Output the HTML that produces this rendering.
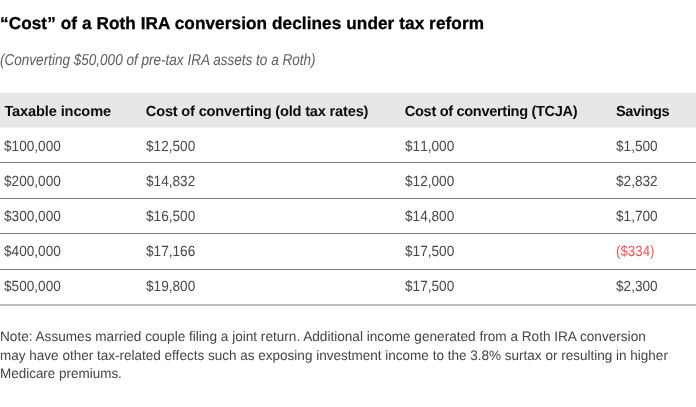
<!DOCTYPE html>
<html lang="en">
<head>
<meta charset="utf-8">
<title>“Cost” of a Roth IRA conversion declines under tax reform</title>
<style>
  html, body { margin: 0; padding: 0; background: #fff; }
  body {
    width: 696px; height: 407px; position: relative; overflow: hidden;
    font-family: "Liberation Sans", sans-serif;
    color: #333;
    text-rendering: geometricPrecision;
  }
  .chart { position: absolute; left: 0; top: 0; width: 696px; height: 407px; }
  h1 {
    position: absolute; left: 0; top: 11px; margin: 0;
    font-size: 17.2px; line-height: 24px; font-weight: bold; color: #000;
    white-space: nowrap; letter-spacing: 0.075px;
    -webkit-text-stroke: 0.3px #000;
  }
  .sub {
    position: absolute; left: 0; top: 50px; margin: 0;
    font-size: 15.8px; line-height: 22px; font-style: italic; color: #5e5e5e;
    white-space: nowrap;
  }
  .sub span, td span, .note span {
    display: inline-block; transform-origin: 0 50%;
  }
  .sub span { transform: scaleX(0.857); }
  table {
    position: absolute; left: 0; top: 92px; width: 696px;
    border-collapse: separate; border-spacing: 0; table-layout: fixed;
  }
  th, td {
    box-sizing: border-box; line-height: 16px;
    padding: 0 0 0 4.2px; text-align: left; vertical-align: top;
    white-space: nowrap; overflow: visible;
  }
  th {
    height: 36px; padding-top: 12px;
    font-size: 14.6px; font-weight: bold; color: #0c0c0c;
    background: linear-gradient(#f5f5f6 0, #f5f5f6 1px, #e6e7e8 1px, #e6e7e8 35px, #f2f3f3 35px, #f2f3f3 36px);
    letter-spacing: -0.25px;
  }
  td {
    font-size: 14.8px; font-weight: normal; color: #474747;
    border-bottom: 1px solid #7c7c7c;
  }
  td span { font-kerning: none; transform: scaleX(0.92); }
  tr.r1 td { height: 35px; padding-top: 11px; }
  tr.r2 td { height: 36px; padding-top: 11px; }
  tr.r3 td { height: 35px; padding-top: 10px; }
  tr.r4 td { height: 36px; padding-top: 10px; }
  tr.r5 td { height: 36px; padding-top: 9px; border-bottom: 2px solid #bcbcbc; }
  td + td { padding-left: 5.2px; }
  th.c1 { letter-spacing: -0.13px; padding-left: 4.4px; }
  th.c2 { letter-spacing: -0.183px; padding-left: 4.8px; }
  th.c3 { letter-spacing: -0.33px; padding-left: 4.8px; }
  th.c4 { letter-spacing: -0.4px; padding-left: 5px; }
  td.neg { color: #f0545a; }
  td.neg span { transform: scaleX(0.9); }
  .note span { display: block; transform: scaleX(0.986); }
  .note .l2 { transform: scaleX(0.98); }
  .note .l3 { transform: scaleX(0.975); }
  .note {
    position: absolute; left: 0; top: 328px; margin: 0; width: 696px;
    font-size: 13.8px; line-height: 18.7px; color: #444; white-space: nowrap;
  }
</style>
</head>
<body>
<div class="chart">
  <h1>“Cost” of a Roth IRA conversion declines under tax reform</h1>
  <p class="sub"><span>(Converting $50,000 of pre-tax IRA assets to a Roth)</span></p>
  <table>
    <colgroup><col style="width:141px"><col style="width:259px"><col style="width:211px"><col style="width:85px"></colgroup>
    <thead>
      <tr><th class="c1">Taxable income</th><th class="c2">Cost of converting (old tax rates)</th><th class="c3">Cost of converting (TCJA)</th><th class="c4">Savings</th></tr>
    </thead>
    <tbody>
      <tr class="r1"><td><span>$100,000</span></td><td><span>$12,500</span></td><td><span>$11,000</span></td><td><span>$1,500</span></td></tr>
      <tr class="r2"><td><span>$200,000</span></td><td><span>$14,832</span></td><td><span>$12,000</span></td><td><span>$2,832</span></td></tr>
      <tr class="r3"><td><span>$300,000</span></td><td><span>$16,500</span></td><td><span>$14,800</span></td><td><span>$1,700</span></td></tr>
      <tr class="r4"><td><span>$400,000</span></td><td><span>$17,166</span></td><td><span>$17,500</span></td><td class="neg"><span>($334)</span></td></tr>
      <tr class="r5"><td><span>$500,000</span></td><td><span>$19,800</span></td><td><span>$17,500</span></td><td><span>$2,300</span></td></tr>
    </tbody>
  </table>
  <p class="note"><span class="l1">Note: Assumes married couple filing a joint return. Additional income generated from a Roth IRA conversion</span>
    <span class="l2">may have other tax-related effects such as exposing investment income to the 3.8% surtax or resulting in higher</span>
    <span class="l3">Medicare premiums.</span></p>
</div>
</body>
</html>
